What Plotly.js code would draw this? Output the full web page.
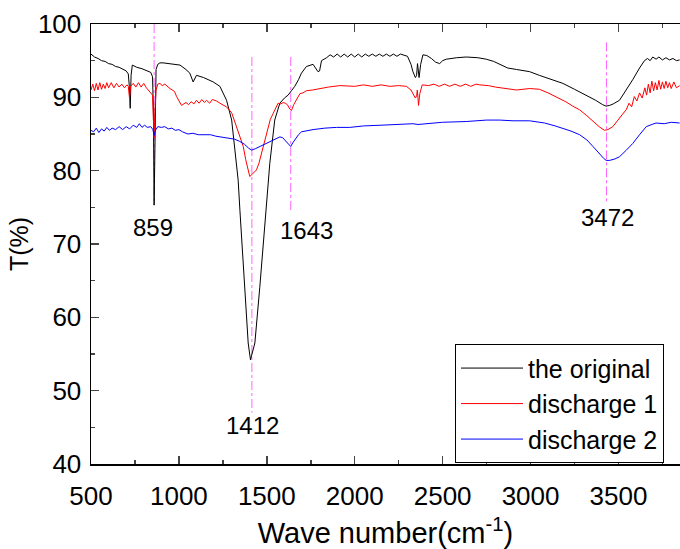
<!DOCTYPE html>
<html>
<head>
<meta charset="utf-8">
<script src="https://cdn.plot.ly/plotly-3.0.1.min.js"></script>
<style>html,body{margin:0;padding:0;background:#fff;}#chart{width:680px;height:549px;}</style>
</head>
<body>
<div id="chart"></div>
<script>
// ---- data ----
const seriesNames = ["the original", "discharge 1", "discharge 2"];
const seriesColors = ["#000000", "#ff0000", "#0000ff"];

const origX = [500,520,540,560,580,600,620,640,660,680,700,712,718,723,728,735,760,790,820,840,850,855,859,863,870,880,892,910,950,1006,1040,1062,1081,1100,1140,1195,1233,1271,1300,1318,1337,1347,1375,1394,1407,1415,1432,1460,1489,1517,1545,1574,1600,1621,1640,1659,1680,1697,1725,1763,1791,1800,1811,1840,1860,1880,1900,1920,1940,1960,1980,2000,2020,2040,2060,2080,2100,2120,2140,2160,2180,2200,2220,2240,2260,2280,2300,2320,2331,2345,2352,2357,2361,2366,2375,2388,2410,2436,2460,2483,2500,2521,2580,2634,2700,2748,2790,2824,2870,2920,2960,2995,3050,3100,3150,3184,3250,3317,3370,3410,3430,3450,3470,3506,3540,3581,3620,3648,3665,3680,3695,3714,3730,3750,3770,3790,3810,3830,3848];
const origY = [95.9,95.5,95.3,95.0,94.9,94.6,94.5,94.2,94.1,93.8,93.6,93.2,91.5,88.5,93.0,94.4,94.1,93.9,93.6,93.4,92.8,88.0,75.3,85.0,93.8,94.5,94.7,94.7,94.6,94.4,93.8,93.3,92.1,93.0,92.7,92.1,91.5,89.6,86.9,83.3,78.7,74.6,64.7,56.5,54.2,55.0,56.5,64.1,73.3,81.0,86.9,89.2,89.9,90.3,90.9,91.5,92.4,93.3,94.2,94.5,93.5,93.6,95.0,95.4,95.8,95.5,95.9,95.5,95.9,95.5,95.9,95.5,95.9,95.5,95.9,95.6,95.9,95.6,95.9,95.6,95.9,95.6,95.9,95.6,95.9,95.7,95.6,94.5,93.5,92.7,93.0,94.6,94.0,92.7,94.5,95.8,95.7,95.3,94.8,94.6,95.0,95.2,95.4,95.5,95.4,95.2,94.9,94.5,94.0,93.8,93.6,93.5,93.0,92.6,92.2,91.9,91.1,90.3,89.6,89.0,88.8,88.9,89.1,89.6,90.8,92.4,94.0,95.0,95.3,95.0,95.5,95.2,95.5,95.1,95.4,95.1,95.3,95.0,95.1];

const dis1X = [500,510,520,530,540,550,560,570,580,590,600,615,630,645,660,675,690,705,712,719,725,740,755,770,785,800,815,833,850,855,859,863,870,880,892,905,920,949,975,987,1015,1040,1055,1070,1085,1100,1115,1130,1145,1157,1175,1190,1214,1240,1271,1300,1328,1354,1366,1380,1394,1403,1420,1441,1455,1470,1490,1507,1520,1536,1550,1564,1580,1593,1605,1617,1631,1640,1653,1670,1688,1705,1725,1760,1801,1850,1915,2000,2050,2100,2150,2200,2250,2294,2320,2331,2345,2352,2356,2360,2363,2370,2384,2420,2450,2480,2510,2540,2570,2600,2630,2660,2690,2710,2760,2800,2862,2920,2995,3050,3100,3146,3200,3240,3279,3320,3355,3390,3420,3440,3468,3500,3520,3544,3560,3575,3590,3605,3620,3635,3650,3660,3670,3680,3690,3700,3710,3720,3730,3740,3750,3760,3770,3780,3790,3800,3815,3830,3848];
const dis1Y = [91.0,91.8,90.9,91.9,91.0,92.0,91.1,91.8,91.2,92.0,91.3,92.0,91.3,91.9,91.4,91.8,91.3,91.7,91.5,89.9,91.5,91.9,91.4,92.0,91.4,91.9,91.3,90.8,90.3,87.0,84.5,88.0,91.0,91.8,91.9,91.6,91.8,91.2,90.8,90.1,88.9,89.3,89.0,89.4,89.1,89.6,89.2,89.7,89.3,89.6,89.2,89.7,89.5,89.1,88.7,87.9,86.0,84.2,83.3,81.5,80.1,79.2,79.6,80.1,81.0,82.4,84.3,86.0,87.0,87.8,88.6,89.2,89.1,89.3,89.2,89.0,88.4,88.2,89.0,89.8,90.5,90.6,90.9,91.0,91.2,91.4,91.6,91.5,91.7,91.5,91.7,91.5,91.6,91.5,91.0,90.5,89.9,90.2,91.0,89.8,88.9,90.5,91.7,91.6,91.8,91.5,91.8,91.5,91.8,91.5,91.8,91.5,91.8,91.7,91.6,91.4,91.2,91.0,91.2,91.1,90.6,90.1,89.4,88.8,88.3,87.5,86.7,86.0,85.5,85.6,86.0,86.9,87.6,88.3,89.2,88.7,90.1,89.5,90.6,89.9,91.3,90.3,91.8,90.6,92.2,90.9,92.0,91.0,92.3,91.1,92.1,91.2,92.2,91.3,92.0,91.2,92.1,91.3,91.6];

const dis2X = [500,515,530,545,560,575,590,605,620,640,660,680,700,720,740,760,775,790,805,820,840,852,859,866,880,900,919,940,960,980,1000,1020,1051,1080,1110,1146,1180,1210,1240,1280,1316,1345,1373,1395,1413,1435,1460,1490,1517,1545,1574,1590,1602,1620,1636,1648,1659,1680,1697,1730,1763,1830,1896,1972,2050,2150,2250,2331,2360,2400,2500,2634,2750,2824,2900,2995,3080,3140,3184,3230,3279,3320,3355,3390,3415,3430,3450,3480,3506,3545,3581,3620,3658,3690,3714,3760,3800,3848];
const dis2Y = [85.5,85.3,85.8,85.2,85.7,85.4,85.9,85.5,85.8,85.6,86.0,85.6,86.0,85.7,86.2,85.9,86.4,85.9,86.2,85.9,86.0,85.6,84.8,85.5,86.0,85.9,86.0,85.7,85.8,85.5,85.6,85.3,85.0,85.1,84.9,84.9,84.9,84.7,84.6,84.5,84.3,84.0,83.6,83.1,82.8,83.0,83.3,83.6,84.0,84.3,84.6,84.5,84.2,83.7,83.3,83.8,84.2,84.9,85.3,85.5,85.6,85.8,85.9,85.9,86.1,86.2,86.3,86.4,86.3,86.4,86.6,86.7,86.9,86.9,86.8,86.8,86.5,86.1,85.8,85.4,84.9,84.2,83.3,82.3,81.7,81.4,81.4,81.6,81.9,82.8,83.7,84.9,86.0,86.3,86.5,86.4,86.6,86.5];

// peak markers: label text, line position, line top, line bottom, label x, label y
const peakLabels = ["859", "1412", "1643", "3472"];
const peakLineX = [859, 1415, 1636, 3432];
const peakLineTop = [100, 95.5, 95.5, 97.5];
const peakLineBottom = [75.3, 47, 74.6, 75.5];
const peakLabelX = [852, 1418, 1724, 3435];
const peakLabelY = [72.2, 45.3, 71.9, 73.6];

const xTicks = [500, 1000, 1500, 2000, 2500, 3000, 3500];
const yTicks = [40, 50, 60, 70, 80, 90, 100];

// ---- chart ----
const FONT = "Liberation Sans, Arial, sans-serif";
const xs = [origX, dis1X, dis2X];
const ys = [origY, dis1Y, dis2Y];
const traces = xs.map((x, i) => ({
  x: x, y: ys[i], type: "scatter", mode: "lines", name: seriesNames[i],
  line: {color: seriesColors[i], width: 1}
}));

const shapes = peakLineX.map((x, i) => ({
  type: "line", xref: "x", yref: "y", x0: x, x1: x, y0: peakLineTop[i], y1: peakLineBottom[i],
  line: {color: "#ff66ff", width: 1, dash: "dashdot"}, layer: "below"
}));
const annotations = peakLabels.map((t, i) => ({
  x: peakLabelX[i], y: peakLabelY[i], xref: "x", yref: "y", text: t, showarrow: false,
  font: {family: FONT, size: 24, color: "#000"}
}));

const layout = {
  width: 680, height: 549,
  margin: {l: 91, r: 0, t: 24, b: 85, pad: 0},
  paper_bgcolor: "#fff", plot_bgcolor: "#fff",
  font: {family: FONT, size: 26, color: "#000"},
  showlegend: true,
  legend: {
    x: 0.618, y: 0.272, xanchor: "left", yanchor: "top",
    bordercolor: "#000", borderwidth: 1, bgcolor: "#fff",
    font: {family: FONT, size: 25, color: "#000"},
    itemwidth: 62, tracegroupgap: 0
  },
  xaxis: {
    range: [500, 3850], tickvals: xTicks, ticks: "inside", ticklen: 8, tickwidth: 1.5,
    showline: true, linecolor: "#000", linewidth: 1.5, mirror: "ticks",
    showgrid: false, zeroline: false, ticklabelstandoff: 8,
    minor: {ticks: "inside", ticklen: 4, dtick: 250, tick0: 500, tickwidth: 1.5, showgrid: false},
    tickfont: {family: FONT, size: 26},
    title: {text: "Wave number(cm<sup>-1</sup>)", font: {family: FONT, size: 29}, standoff: 14}
  },
  yaxis: {
    range: [40, 100], tickvals: yTicks, ticks: "inside", ticklen: 8, tickwidth: 1.5,
    showline: true, linecolor: "#000", linewidth: 1.5, mirror: false,
    showgrid: false, zeroline: false, ticklabelstandoff: 3,
    minor: {ticks: "inside", ticklen: 4, dtick: 5, tick0: 40, tickwidth: 1.5, showgrid: false},
    tickfont: {family: FONT, size: 26},
    title: {text: "T(%)", font: {family: FONT, size: 25}, standoff: 2}
  },
  shapes: shapes,
  annotations: annotations
};

Plotly.newPlot("chart", traces, layout, {displayModeBar: false, staticPlot: true});
</script>
</body>
</html>
